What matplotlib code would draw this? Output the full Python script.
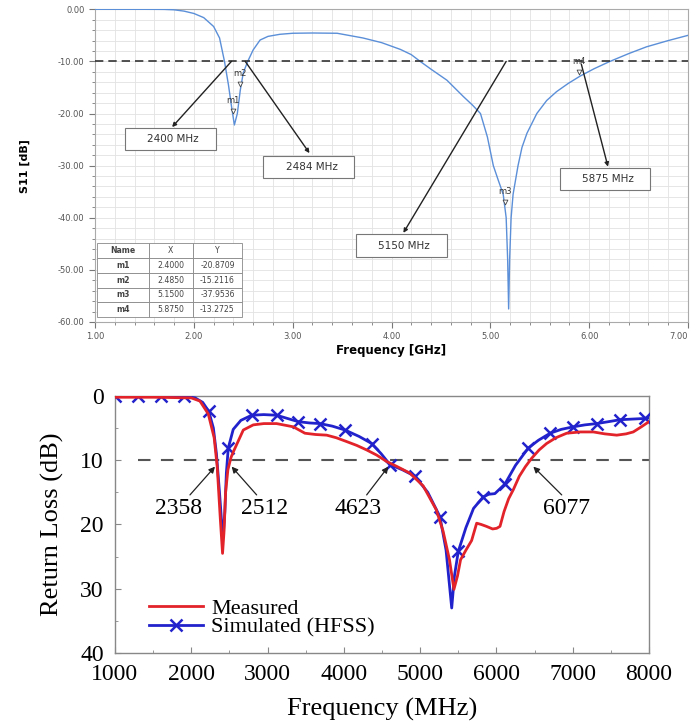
import matplotlib.pyplot as plt
import matplotlib.patches as mpatches
from matplotlib.ticker import MultipleLocator, FuncFormatter, FormatStrFormatter

# ---------------------------------------------------------------------------
# Data: simulated S11 (top panel)
# ---------------------------------------------------------------------------
s11_freq = [1.00, 1.50, 1.70, 1.80, 1.90, 2.00, 2.10, 2.20, 2.26, 2.31, 2.35,
            2.38, 2.41, 2.44, 2.47, 2.50, 2.545, 2.60, 2.67, 2.75, 2.87, 3.00,
            3.20, 3.45, 3.71, 3.90, 4.09, 4.20, 4.29, 4.40, 4.56, 4.73, 4.82,
            4.90, 4.97, 5.03, 5.08, 5.13, 5.16, 5.175, 5.185, 5.195, 5.21, 5.23,
            5.28, 5.32, 5.37, 5.47, 5.57, 5.67, 5.79, 5.91, 6.05, 6.21, 6.40,
            6.58, 6.80, 7.00]
s11_db = [0.0, 0.0, -0.02, -0.1, -0.35, -0.8, -1.6, -3.3, -5.5, -10.0, -14.5,
          -18.5, -22.2, -20.0, -15.5, -12.2, -10.0, -7.8, -5.9, -5.2, -4.8, -4.6,
          -4.55, -4.6, -5.5, -6.4, -7.7, -8.7, -10.0, -11.5, -13.6, -16.8, -18.4,
          -20.0, -24.5, -30.0, -32.8, -35.5, -40.0, -48.0, -57.5, -48.0, -40.0, -35.5,
          -30.0, -26.5, -23.8, -20.0, -17.5, -15.8, -14.2, -12.8, -11.4, -10.0, -8.5,
          -7.2, -6.0, -5.0]

marker_names = ['m1', 'm2', 'm3', 'm4']
marker_x = [2.40, 2.47, 5.15, 5.90]
marker_y = [-19.5, -14.3, -37.0, -12.0]

table_cols = ['Name', 'X', 'Y']
table_x = ['2.4000', '2.4850', '5.1500', '5.8750']
table_y = ['-20.8709', '-15.2116', '-37.9536', '-13.2725']

band_labels = ['2400 MHz', '2484 MHz', '5150 MHz', '5875 MHz']

# ---------------------------------------------------------------------------
# Data: return loss, measured vs simulated (bottom panel)
# ---------------------------------------------------------------------------
meas_freq = [1000, 1500, 2000, 2114, 2223, 2300, 2340, 2380, 2410, 2430, 2450,
             2480, 2520, 2551, 2682, 2813, 2950, 3119, 3337, 3490, 3630, 3775,
             3900, 4037, 4170, 4299, 4430, 4561, 4700, 4864, 5040, 5211, 5300,
             5385, 5443, 5490, 5530, 5600, 5675, 5741, 5800, 5870, 5950, 6003,
             6047, 6100, 6160, 6221, 6300, 6380, 6462, 6560, 6658, 6780, 6921,
             7100, 7270, 7420, 7577, 7700, 7794, 7900, 8000]
meas_loss = [0.2, 0.2, 0.3, 0.8, 2.8, 6.5, 11.0, 19.0, 24.5, 21.0, 15.0,
             11.5, 9.6, 8.7, 5.3, 4.5, 4.3, 4.3, 4.8, 5.8, 6.0, 6.1,
             6.5, 7.1, 7.7, 8.4, 9.2, 10.2, 11.0, 12.0, 14.0, 17.7, 21.0,
             25.5, 30.1, 28.0, 25.5, 24.0, 22.5, 19.8, 20.0, 20.3, 20.7, 20.6,
             20.3, 18.0, 16.0, 14.6, 12.5, 11.0, 9.7, 8.4, 7.4, 6.5, 5.8,
             5.6, 5.6, 5.9, 6.1, 5.9, 5.6, 4.8, 4.0]

sim_freq = [1000, 1300, 1600, 1900, 2050, 2150, 2230, 2290, 2330, 2370, 2400,
            2420, 2440, 2460, 2485, 2550, 2650, 2792, 2950, 3119, 3260, 3403,
            3550, 3688, 3850, 4015, 4200, 4365, 4490, 4605, 4770, 4933, 5100,
            5260, 5340, 5414, 5450, 5500, 5600, 5700, 5828, 5900, 5980, 6112,
            6250, 6418, 6550, 6704, 6850, 7009, 7160, 7315, 7470, 7621, 7780,
            7948, 8000]
sim_loss = [0.0, 0.0, 0.0, 0.0, 0.3, 1.0, 2.4, 5.0, 9.0, 15.0, 20.0,
            21.5, 18.0, 12.0, 8.1, 5.2, 3.8, 3.0, 2.9, 3.0, 3.5, 4.0,
            4.2, 4.3, 4.7, 5.3, 6.3, 7.4, 9.0, 10.7, 11.5, 12.5, 15.0,
            18.8, 24.0, 33.0, 28.0, 24.2, 20.5, 17.5, 15.7, 15.3, 15.2, 13.7,
            10.8, 8.1, 6.9, 5.8, 5.2, 4.8, 4.5, 4.3, 4.0, 3.7, 3.6,
            3.5, 3.4]
sim_marks = [1000, 1300, 1600, 1900, 2230, 2485, 2792, 3119, 3403, 3688, 4015,
             4365, 4605, 4933, 5260, 5500, 5828, 6112, 6418, 6704, 7009, 7315,
             7621, 7948]

crossing_labels = ['2358', '2512', '4623', '6077']
crossing_freq = [2311, 2529, 4583, 6484]

fig = plt.figure(figsize=(6.91, 7.26), dpi=100)

# ============================================================================
# Top panel: HFSS style S11 plot
# ============================================================================
ax1 = fig.add_axes([0.1375, 0.5565, 0.8582, 0.4307])
ax1.plot(s11_freq, s11_db, color='#5b8fd8', lw=1.0, zorder=3)
ax1.axhline(-10, color='#333333', lw=1.2, ls=(0, (5, 3)), zorder=4)

ax1.set_xlim(1, 7)
ax1.set_ylim(-60, 0)
ax1.xaxis.set_major_locator(MultipleLocator(1))
ax1.xaxis.set_minor_locator(MultipleLocator(0.2))
ax1.yaxis.set_major_locator(MultipleLocator(10))
ax1.yaxis.set_minor_locator(MultipleLocator(2))
# the 7.00 label is drawn separately so it stays inside the figure
ax1.xaxis.set_major_formatter(FuncFormatter(lambda v, p: '' if v > 6.5 else '%.2f' % v))
ax1.yaxis.set_major_formatter(FormatStrFormatter('%.2f'))
ax1.grid(True, which='both', color='#e2e2e2', lw=0.6, zorder=0)
ax1.tick_params(which='both', direction='out', colors='#777777',
                labelcolor='#555555', labelsize=6)
ax1.tick_params(which='major', length=4)
ax1.tick_params(which='minor', length=2)
for sp in ax1.spines.values():
    sp.set_color('#aaaaaa')
ax1.set_xlabel('Frequency [GHz]', fontsize=8.5, fontweight='bold', labelpad=2)
ax1.set_ylabel('S11 [dB]', fontsize=8, fontweight='bold', labelpad=20)
ax1.annotate('7.00', xy=(1, 0), xycoords='axes fraction', xytext=(0, -7.5),
             textcoords='offset points', ha='right', va='top', fontsize=6,
             color='#555555')

# marker triangles
ax1.scatter(marker_x, marker_y, marker='v', s=12, facecolor='white',
            edgecolor='#444444', lw=0.6, zorder=5)
for name, mx, my in zip(marker_names, marker_x, marker_y):
    ax1.text(mx, my + 1.2, name, fontsize=6, ha='center', va='bottom',
             color='#333333', zorder=5)

# boxed band-edge labels with arrows
box_xy = [(1.30, -27.0), (2.70, -32.4), (3.64, -47.5), (5.70, -34.7)]
box_w, box_h = 0.92, 4.3
arrow_from = [(2.38, -10.0), (2.52, -10.0), (5.16, -10.0), (5.92, -10.5)]
arrow_to = [(1.78, -22.6), (3.17, -27.6), (4.12, -42.9), (6.19, -30.2)]
for lab, (bx, by), p0, p1 in zip(band_labels, box_xy, arrow_from, arrow_to):
    ax1.add_patch(mpatches.Rectangle((bx, by), box_w, box_h, facecolor='white',
                                     edgecolor='#777777', lw=0.8, zorder=6))
    ax1.text(bx + box_w / 2 + 0.03, by + box_h / 2, lab, fontsize=7.5,
             ha='center', va='center', color='#333333', zorder=7)
    ax1.annotate('', xy=p1, xytext=p0, zorder=6,
                 arrowprops=dict(arrowstyle='-|>', color='#222222', lw=1.0,
                                 mutation_scale=6, shrinkA=0, shrinkB=0))

# marker table
cell_text = [[n, x, y] for n, x, y in zip(marker_names, table_x, table_y)]
tbl = ax1.table(cellText=cell_text, colLabels=table_cols, cellLoc='center',
                colWidths=[0.36, 0.30, 0.34], bbox=[0.003, 0.015, 0.245, 0.238])
tbl.auto_set_font_size(False)
tbl.set_fontsize(5.6)
tbl.set_zorder(8)
for (r, c), cell in tbl.get_celld().items():
    cell.set_edgecolor('#888888')
    cell.set_linewidth(0.6)
    cell.get_text().set_color('#444444')
    if c == 0:
        cell.get_text().set_fontweight('bold')

# ============================================================================
# Bottom panel: measured vs simulated return loss
# ============================================================================
serif = ['Liberation Serif', 'DejaVu Serif']
ax2 = fig.add_axes([0.1664, 0.1006, 0.7728, 0.354])
mark_idx = [sim_freq.index(f) for f in sim_marks]
l_sim, = ax2.plot(sim_freq, sim_loss, color='#2222cc', lw=2.0, marker='x',
                  ms=8, mew=1.8, markevery=mark_idx, label='Simulated (HFSS)',
                  zorder=3)
l_meas, = ax2.plot(meas_freq, meas_loss, color='#e3232a', lw=2.0,
                   label='Measured', zorder=4)
ax2.hlines(10, 1300, 8000, colors='#555555', linestyles=(0, (6, 5)), lw=1.5,
           zorder=2)

ax2.set_xlim(1000, 8000)
ax2.set_ylim(40, 0)
ax2.xaxis.set_major_locator(MultipleLocator(1000))
ax2.xaxis.set_minor_locator(MultipleLocator(500))
ax2.yaxis.set_major_locator(MultipleLocator(10))
ax2.yaxis.set_minor_locator(MultipleLocator(5))
ax2.tick_params(which='both', direction='in', colors='#888888',
                labelcolor='black', labelsize=17)
ax2.tick_params(which='major', length=4, pad=8)
ax2.tick_params(which='minor', length=2)
for lbl in ax2.get_xticklabels() + ax2.get_yticklabels():
    lbl.set_family(serif)
for sp in ax2.spines.values():
    sp.set_color('#888888')
    sp.set_linewidth(1.0)
ax2.set_xlabel('Frequency (MHz)', fontsize=19, family=serif, labelpad=9)
ax2.set_ylabel('Return Loss (dB)', fontsize=19, family=serif, labelpad=12)

text_xy = [(1827, 17.5), (2955, 17.5), (4182, 17.5), (6918, 17.5)]
tail_xy = [(1983, 15.4), (2857, 15.4), (4299, 15.4), (6856, 15.4)]
for lab, fx, (tx, ty), (ax_, ay_) in zip(crossing_labels, crossing_freq,
                                         text_xy, tail_xy):
    ax2.text(tx, ty, lab, fontsize=17, family=serif, ha='center',
             va='center', zorder=6)
    ax2.annotate('', xy=(fx, 11.0), xytext=(ax_, ay_), zorder=6,
                 arrowprops=dict(arrowstyle='-|>', color='#222222', lw=0.9,
                                 mutation_scale=9, shrinkA=0, shrinkB=0))

ax2.legend([l_meas, l_sim], ['Measured', 'Simulated (HFSS)'], loc='lower left',
           bbox_to_anchor=(0.035, 0.0), frameon=False,
           prop={'family': serif, 'size': 16}, handlelength=2.4,
           handletextpad=0.4, labelspacing=-0.1, borderpad=0.2)

fig.savefig('out.png', dpi=100)
